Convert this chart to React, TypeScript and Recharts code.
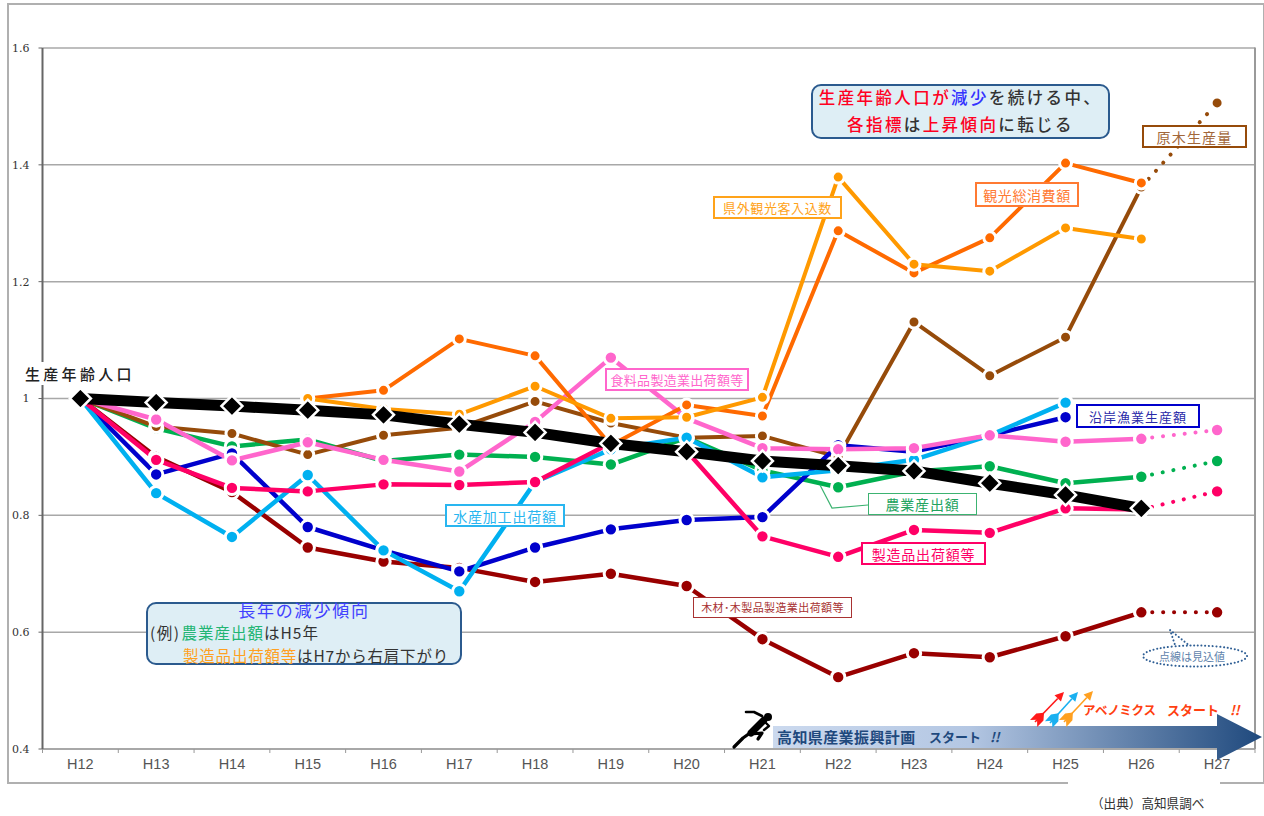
import React from "react";
import { LineChart, Line, XAxis, YAxis, CartesianGrid } from "recharts";

const categories = ["H12","H13","H14","H15","H16","H17","H18","H19","H20","H21","H22","H23","H24","H25","H26","H27"];
const n = null;
const workingAge = [1,0.993,0.987,0.98,0.972,0.956,0.942,0.923,0.909,0.893,0.885,0.876,0.855,0.835,0.812,n];
const tourismSpend = [n,n,n,1.0,1.014,1.102,1.073,0.92,0.989,0.97,1.287,1.215,1.275,1.403,1.369,n];
const visitors = [n,n,n,1.0,0.982,0.973,1.021,0.966,0.968,1.002,1.379,1.23,1.218,1.292,1.273,n];
const timber = [1,0.952,0.94,0.904,0.937,0.95,0.995,0.958,0.933,0.936,0.9,1.131,1.039,1.105,1.362,n];
const timberEst = [n,n,n,n,n,n,n,n,n,n,n,n,n,n,1.362,1.506];
const agri = [1,0.949,0.918,0.93,0.893,0.904,0.9,0.887,0.933,0.877,0.848,0.875,0.884,0.855,0.866,n];
const agriEst = [n,n,n,n,n,n,n,n,n,n,n,n,n,n,0.866,0.893];
const fishery = [1,0.87,0.906,0.78,0.74,0.704,0.745,0.776,0.792,0.797,0.92,0.909,0.937,0.968,n,n];
const seafood = [1,0.838,0.763,0.869,0.74,0.67,0.857,0.913,0.933,0.865,0.877,0.895,0.937,0.993,n,n];
const mfg = [1,0.895,0.847,0.841,0.853,0.852,0.857,0.924,0.91,0.764,0.729,0.775,0.77,0.812,0.81,n];
const mfgEst = [n,n,n,n,n,n,n,n,n,n,n,n,n,n,0.81,0.841];
const wood = [1,0.9,0.84,0.745,0.721,0.71,0.686,0.7,0.679,0.588,0.523,0.564,0.557,0.593,0.634,n];
const woodEst = [n,n,n,n,n,n,n,n,n,n,n,n,n,n,0.634,0.634];
const food = [1,0.964,0.894,0.925,0.895,0.875,0.96,1.07,0.966,0.915,0.913,0.915,0.937,0.926,0.931,n];
const foodEst = [n,n,n,n,n,n,n,n,n,n,n,n,n,n,0.931,0.946];
const yTicks = [0.4,0.6,0.8,1,1.2,1.4,1.6];

const rows = categories.map((cat, i) => ({
  cat,
  workingAge: workingAge[i], tourismSpend: tourismSpend[i], visitors: visitors[i],
  timber: timber[i], timberEst: timberEst[i], agri: agri[i], agriEst: agriEst[i],
  fishery: fishery[i], seafood: seafood[i], mfg: mfg[i], mfgEst: mfgEst[i],
  wood: wood[i], woodEst: woodEst[i], food: food[i], foodEst: foodEst[i],
}));

const JP = '"Noto Sans CJK JP", sans-serif';
const C = { orange: "#FF6A00", amber: "#FF9900", brown: "#964B0A", green: "#00B050", blue: "#0000CC", cyan: "#00B0F0", red: "#FF0066", dark: "#990000", pink: "#FF66CC" };

const dotted = (key: string, color: string, r = 6.7) => (
  <Line key={key} dataKey={key} stroke={color} strokeWidth={4} strokeLinecap="round" strokeDasharray="0.1 10.8"
    dot={{ r, fill: color, stroke: "#fff", strokeWidth: 3, strokeDasharray: "none" }} connectNulls={false} isAnimationActive={false} />
);
const solid = (key: string, color: string, w = 4.5, r = 6.7) => (
  <Line key={key} dataKey={key} stroke={color} strokeWidth={w} strokeLinejoin="round"
    dot={{ r, fill: color, stroke: "#fff", strokeWidth: 3 }} connectNulls={false} isAnimationActive={false} />
);

const Diamond = (p: any) => {
  if (p.value == null) return null;
  const s = 10.5;
  return <polygon key={p.key} points={`${p.cx},${p.cy - s} ${p.cx + s},${p.cy} ${p.cx},${p.cy + s} ${p.cx - s},${p.cy}`} fill="#000" stroke="#fff" strokeWidth={2.5} />;
};

const band = (1255 - 42.5) / 16;
const XTick = (p: any) => (
  <g>
    <line x1={p.x - band / 2} x2={p.x - band / 2} y1={749} y2={753} stroke="#999" strokeWidth={1} />
    {p.payload.value === "H27" && <line x1={p.x + band / 2} x2={p.x + band / 2} y1={749} y2={753} stroke="#999" strokeWidth={1} />}
    <text x={p.x} y={769} textAnchor="middle" fontFamily='"Liberation Sans", sans-serif' fontSize={14.5} fill="#555">{p.payload.value}</text>
  </g>
);

const Tag = ({ x, y, w, h, color, text, textColor, fs = 13, ls = 1, bw = 2 }: any) => (
  <div style={{ position: "absolute", left: x, top: y, width: w, height: h, boxSizing: "border-box", border: `${bw}px solid ${color}`, background: "#fff", display: "flex", alignItems: "center", justifyContent: "center", fontFamily: JP, fontSize: fs, letterSpacing: ls, color: textColor || color, whiteSpace: "nowrap", lineHeight: 1 }}>
    {text}
  </div>
);

const Arrowlet = ({ tx, ty, hx, hy, color }: any) => {
  const dx = hx - tx, dy = hy - ty, L = Math.hypot(dx, dy), ux = dx / L, uy = dy / L, nx = -uy, ny = ux;
  const bx = hx - ux * 9, by = hy - uy * 9;
  const at = (a: number, b: number) => `${tx + ux * a + nx * b},${ty + uy * a + ny * b}`;
  return (
    <g>
      <line x1={tx} y1={ty} x2={bx} y2={by} stroke={color} strokeWidth={1.6} />
      <polygon points={`${hx},${hy} ${bx + nx * 4.5},${by + ny * 4.5} ${bx - nx * 4.5},${by - ny * 4.5}`} fill={color} />
      <polygon points={[at(3, 0), at(-2, 5), at(7, 5), at(13, 0), at(7, -5), at(-2, -5)].join(" ")} fill={color} />
    </g>
  );
};

const infoBox: React.CSSProperties = { position: "absolute", boxSizing: "border-box", background: "#DEEEF5", border: "2.5px solid #2B5A8E", borderRadius: 10, fontFamily: JP };
const R = ({ c, children }: any) => <span style={{ color: c }}>{children}</span>;
const Bold = ({ x, y, fs, c, ls = 0, italic = false, children }: any) => (
  <div style={{ position: "absolute", left: x, top: y, fontFamily: JP, fontSize: fs, fontWeight: 700, color: c, letterSpacing: ls, fontStyle: italic ? "italic" : "normal", lineHeight: "20px", whiteSpace: "pre" }}>{children}</div>
);

export default function App() {
  return (
    <div style={{ position: "absolute", left: 0, top: 0, width: 1264, height: 816, background: "#fff", overflow: "hidden" }}>
      {/* outer frame */}
      <div style={{ position: "absolute", left: 7, top: 3, width: 1254, height: 777, border: "2px solid #b0b0b0" }} />
      <div style={{ position: "absolute", left: 1068, top: 778, width: 152, height: 6, background: "#fff" }} />

      <div style={{ position: "absolute", left: 0, top: 0 }}>
        <LineChart width={1264} height={816} data={rows} margin={{ top: 48, right: 9, bottom: 37, left: 0 }}>
          <CartesianGrid horizontal vertical={false} stroke="#a8a8a8" strokeWidth={1.5} />
          <XAxis dataKey="cat" height={30} padding={{ left: band / 2, right: band / 2 }} axisLine={{ stroke: "#a8a8a8", strokeWidth: 2 }} tickLine={false} tick={XTick} interval={0} />
          <YAxis width={42.5} domain={[0.4, 1.6]} ticks={yTicks} allowDataOverflow
            tickFormatter={(v: number) => String(v)} axisLine={{ stroke: "#666", strokeWidth: 2 }}
            tickLine={{ stroke: "#666" }} tickSize={4} tickMargin={9}
            tick={{ fontFamily: '"DejaVu Serif", serif', fontSize: 11, fill: "#333" }} />
          {dotted("timberEst", C.brown, 6)}
          {dotted("agriEst", C.green)}
          {dotted("mfgEst", C.red)}
          {dotted("woodEst", C.dark)}
          {dotted("foodEst", C.pink)}
          {solid("agri", C.green)}
          {solid("timber", C.brown, 4, 6)}
          {solid("wood", C.dark)}
          {solid("fishery", C.blue)}
          {solid("seafood", C.cyan)}
          {solid("mfg", C.red)}
          {solid("food", C.pink)}
          {solid("tourismSpend", C.orange, 4, 6)}
          {solid("visitors", C.amber, 4, 6)}
          <Line dataKey="workingAge" stroke="#000" strokeWidth={11} dot={Diamond} connectNulls={false} isAnimationActive={false} />
        </LineChart>
      </div>

      <svg width={1264} height={816} style={{ position: "absolute", left: 0, top: 0 }}>
        <defs>
          <linearGradient id="shaft" x1="773" x2="1262" y1="0" y2="0" gradientUnits="userSpaceOnUse">
            <stop offset="0" stopColor="#CBD9EE" />
            <stop offset="0.4" stopColor="#B4C7E3" />
            <stop offset="1" stopColor="#1F497D" />
          </linearGradient>
        </defs>
        <line x1={1255} x2={1255} y1={47.5} y2={749} stroke="#9a9a9a" strokeWidth={2} />
        <polyline points="820,485 832,508 868,505" fill="none" stroke="#3CB371" strokeWidth={1.2} />
        <path d="M773 726 H1217 V714 L1262 737 L1217 760 V748 H773 Z" fill="url(#shaft)" />
        {/* runner */}
        <g stroke="#000" fill="none" strokeLinecap="round" strokeLinejoin="round">
          <circle cx={768} cy={717} r={4} fill="#000" stroke="none" />
          <line x1={764} y1={720} x2={751} y2={733} strokeWidth={7} />
          <polyline points="762,716 754,712 746,712" strokeWidth={2.6} />
          <polyline points="765,722 769,726 764,730" strokeWidth={2.4} />
          <polyline points="750,733 743,738 734,747" strokeWidth={3.2} />
          <polyline points="751,734 762,733 758,739" strokeWidth={3.2} />
        </g>
        <Arrowlet tx={1035} ty={722} hx={1064} hy={692} color="#FF1A1A" />
        <Arrowlet tx={1050} ty={723} hx={1078} hy={692} color="#1AB0F0" />
        <Arrowlet tx={1064} ty={722} hx={1093} hy={691} color="#FFA020" />
        {/* callout */}
        <polyline points="1177,651 1170,630 1195,650" fill="none" stroke="#2F5F95" strokeWidth={2} strokeLinecap="round" strokeDasharray="0.1 3.6" />
        <ellipse cx={1195} cy={656} rx={52} ry={10.5} fill="#fff" stroke="#2F5F95" strokeWidth={2} strokeLinecap="round" strokeDasharray="0.1 3.6" />
      </svg>

      {/* labels */}
      <div style={{ position: "absolute", left: 25, top: 362, width: 112, height: 23, background: "#fff", fontFamily: JP, fontSize: 15, fontWeight: 500, letterSpacing: 3.3, color: "#222", lineHeight: "23px", whiteSpace: "nowrap" }}>生産年齢人口</div>

      <div style={{ ...infoBox, left: 811, top: 84, width: 299, height: 55, fontSize: 16.5, fontWeight: 500, letterSpacing: 2.4, color: "#333", lineHeight: "27px", textAlign: "center", whiteSpace: "nowrap", paddingTop: 0 }}>
        <div style={{ marginTop: -2 }}><R c="#FF0022">生産年齢人口が</R><R c="#3333FF">減少</R>を続ける中、</div>
        <div><R c="#FF0022">各指標</R>は<R c="#FF0022">上昇傾向</R>に転じる</div>
      </div>

      <Tag x={1142} y={125} w={105} h={23} color="#964B0A" textColor="#A2673A" fs={14} ls={1.2} text="原木生産量" />
      <Tag x={975} y={182} w={104} h={25} color="#FF7A33" fs={14} ls={0.6} text="観光総消費額" />
      <Tag x={713} y={196} w={129} h={23} color="#FFA31A" fs={13} ls={0.6} text="県外観光客入込数" />
      <Tag x={605} y={368} w={144} h={23} color="#FF66CC" fs={13} ls={0.3} text="食料品製造業出荷額等" />
      <Tag x={1076} y={404} w={124} h={24} color="#0000CC" textColor="#2A2AA8" fs={13} ls={1} text="沿岸漁業生産額" />
      <Tag x={445} y={504} w={120} h={23} color="#29B6F0" fs={14} ls={0.8} text="水産加工出荷額" />
      <Tag x={868} y={493} w={109} h={22} color="#3CB371" textColor="#22A35E" fs={14} ls={0.8} bw={1.2} text="農業産出額" />
      <Tag x={861} y={542} w={125} h={23} color="#FF0066" fs={14} ls={0.8} text="製造品出荷額等" />
      <Tag x={693} y={597} w={159} h={21} color="#A83232" fs={11} ls={0.4} bw={1.5} text="木材･木製品製造業出荷額等" />

      <div style={{ ...infoBox, left: 146, top: 602, width: 316, height: 63 }} />
      <div style={{ position: "absolute", left: 146, top: 600, width: 316, textAlign: "center", fontFamily: JP, fontSize: 17, letterSpacing: 1.8, color: "#4040FF", lineHeight: "20px" }}>長年の減少傾向</div>
      <div style={{ position: "absolute", left: 150, top: 622, fontFamily: JP, fontSize: 15.5, letterSpacing: 1, color: "#333", lineHeight: "20px", whiteSpace: "nowrap" }}><span style={{ letterSpacing: 1.5, marginRight: 1 }}>(例)</span><R c="#22B573">農業産出額</R>はH5年</div>
      <div style={{ position: "absolute", left: 183, top: 645, fontFamily: JP, fontSize: 15.5, letterSpacing: 0.8, color: "#333", lineHeight: "20px", whiteSpace: "nowrap" }}><R c="#FFA020">製造品出荷額等</R>はH7から右肩下がり</div>

      <div style={{ position: "absolute", left: 1159, top: 648, fontFamily: JP, fontSize: 11, color: "#5F83AC", lineHeight: "16px", whiteSpace: "nowrap" }}>点線は見込値</div>

      <Bold x={777} y={727} fs={15} c="#1F497D" ls={0.4}>高知県産業振興計画</Bold>
      <Bold x={929} y={727} fs={13} c="#1F497D">スタート</Bold>
      <Bold x={990} y={727} fs={13} c="#1F497D" italic>!!</Bold>
      <Bold x={1083} y={700} fs={12.5} c="#FF4010" ls={-0.3}>アベノミクス</Bold>
      <Bold x={1167} y={700} fs={13} c="#FF4010">スタート</Bold>
      <Bold x={1230} y={700} fs={13} c="#FF4010" italic>!!</Bold>

      <div style={{ position: "absolute", left: 1091, top: 795, fontFamily: JP, fontSize: 12.6, color: "#333", lineHeight: "16px", whiteSpace: "nowrap" }}>（出典）高知県調べ</div>
    </div>
  );
}
